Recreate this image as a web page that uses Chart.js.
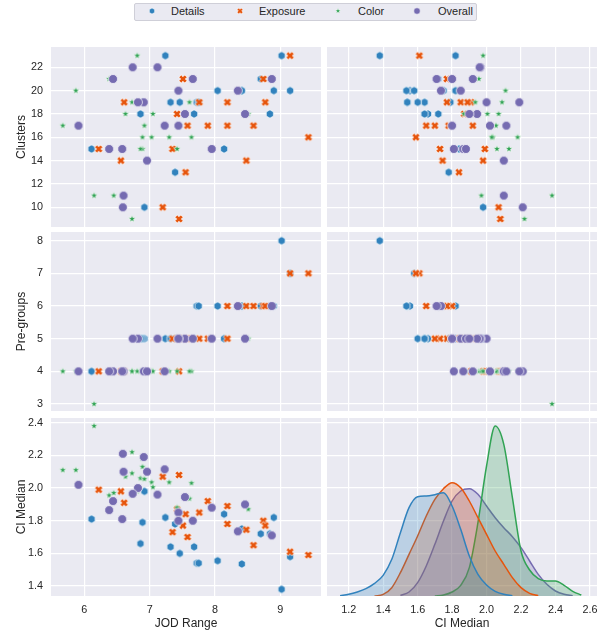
<!DOCTYPE html>
<html>
<head>
<meta charset="utf-8">
<script src="https://cdn.jsdelivr.net/npm/chart.js@4.4.1/dist/chart.umd.min.js"></script>
<style>
  body { margin: 0; background: #fff; width: 604px; height: 632px; position: relative; overflow: hidden;
         font-family: "Liberation Sans", Arial, sans-serif; color: #262626; }
  .panel { position: absolute; }
  .panel canvas { display: block; }
  #legend { position: absolute; left: 134px; top: 3px; width: 343px; height: 18px; box-sizing: border-box;
            background: #EAEAF2; border: 1px solid #cfcfd8; border-radius: 2px; }
  .leg-mark { position: absolute; }
  .leg-text { position: absolute; font-size: 11px; line-height: 13px; }
</style>
</head>
<body>
<div id="legend"></div>
<div id="panels"></div>
<script>
// ---- data ----
const hues = ["Details", "Exposure", "Color", "Overall"];
const hueColors = ["#3182bd", "#e6550d", "#31a354", "#756bb1"];

const detailsJod       = [6.11, 6.92, 6.89, 6.86, 7.24, 7.39, 7.32, 7.46, 7.68, 7.72, 7.75, 8.04, 8.14, 8.41, 8.41, 8.70, 8.84, 8.90, 9.15, 9.02];
const detailsClusters  = [15, 10, 19, 18, 23, 13, 19, 19, 18, 19, 19, 20, 15, 20, 20, 21, 18, 20, 20, 23];
const detailsPreGroups = [4, 5, 5, 5, 5, 5, 5, 5, 5, 6, 6, 6, 5, 6, 6, 6, 6, 6, 7, 8];
const detailsCiMedian  = [1.81, 1.98, 1.79, 1.66, 1.82, 1.78, 1.64, 1.60, 1.64, 1.54, 1.54, 1.555, 1.84, 1.535, 1.75, 1.72, 1.72, 1.82, 1.58, 1.38];

const exposureJod       = [6.22, 6.56, 6.61, 7.20, 7.45, 7.42, 7.55, 7.76, 7.51, 7.35, 7.58, 7.89, 8.19, 8.19, 8.48, 8.59, 8.74, 8.77, 9.15, 9.43];
const exposureClusters  = [15, 14, 19, 10, 9, 18, 13, 19, 21, 15, 17, 17, 19, 17, 14, 17, 21, 19, 23, 16];
const exposurePreGroups = [4, 4, 4, 4, 4, 5, 5, 5, 5, 5, 5, 5, 5, 6, 6, 6, 6, 6, 7, 7];
const exposureCiMedian  = [1.99, 1.98, 1.91, 2.07, 2.08, 1.87, 1.84, 1.85, 1.77, 1.73, 1.70, 1.92, 1.89, 1.78, 1.745, 1.65, 1.80, 1.77, 1.61, 1.59];

const colorJod       = [6.15, 5.67, 5.87, 6.73, 6.89, 6.73, 6.63, 6.86, 6.92, 7.03, 7.05, 7.30, 7.64, 6.38, 6.45, 6.81, 7.61, 7.42, 8.51, 6.89];
const colorClusters  = [11, 17, 20, 9, 15, 19, 18, 15, 17, 16, 18, 16, 16, 21, 11, 23, 19, 15, 18, 16];
const colorPreGroups = [3, 4, 4, 4, 4, 4, 4, 4, 4, 4, 4, 4, 4, 4, 4, 4, 4, 4, 5, 4];
const colorCiMedian  = [2.38, 2.11, 2.11, 2.22, 2.13, 2.09, 2.07, 2.06, 2.055, 2.035, 2.005, 2.035, 2.03, 1.955, 1.97, 1.98, 1.935, 1.88, 1.87, 2.18];

const overallJod       = [5.91, 6.59, 6.91, 6.60, 6.96, 7.23, 6.82, 6.74, 7.12, 6.44, 6.38, 6.58, 7.54, 7.44, 7.44, 7.66, 7.95, 8.46, 8.35, 8.87];
const overallClusters  = [17, 10, 19, 11, 14, 17, 19, 22, 22, 21, 15, 15, 18, 20, 17, 21, 15, 18, 20, 21];
const overallPreGroups = [4, 4, 4, 4, 4, 4, 5, 5, 5, 4, 4, 4, 5, 5, 5, 5, 5, 5, 6, 6];
const overallCiMedian  = [2.02, 2.21, 2.19, 2.10, 2.10, 2.115, 2.00, 1.965, 1.96, 1.92, 1.865, 1.81, 1.945, 1.85, 1.80, 1.80, 1.88, 1.90, 1.735, 1.71];

// kde curves on the diagonal, density read at these CI Median values
const kdeGrid = [1.10, 1.15, 1.20, 1.25, 1.30, 1.35, 1.40, 1.45, 1.50, 1.55, 1.60, 1.65, 1.70, 1.75, 1.80, 1.85,
                 1.90, 1.95, 2.00, 2.05, 2.10, 2.15, 2.20, 2.25, 2.30, 2.35, 2.40, 2.45, 2.50, 2.55, 2.60];
const detailsDensity  = [null, 0.01, 0.05, 0.12, 0.22, 0.38, 0.62, 1.10, 1.90, 2.65, 2.98, 3.00, 3.04, 3.10, 2.70, 2.00,
                         1.20, 0.65, 0.33, 0.14, 0.05, 0.01, null, null, null, null, null, null, null, null, null];
const exposureDensity = [null, null, null, null, null, 0.00, 0.05, 0.25, 0.70, 1.25, 1.80, 2.40, 2.90, 3.22, 3.40, 3.25,
                         2.85, 2.35, 1.85, 1.35, 0.95, 0.55, 0.25, 0.08, 0.01, null, null, null, null, null, null];
const colorDensity    = [null, null, null, null, null, null, null, null, null, null, null, null, 0.00, 0.03, 0.12, 0.32,
                         0.85, 2.20, 3.90, 5.10, 4.55, 2.95, 1.35, 0.78, 0.52, 0.45, 0.45, 0.32, 0.14, 0.03, null];
const overallDensity  = [null, null, null, null, null, null, null, null, 0.02, 0.12, 0.40, 0.90, 1.55, 2.25, 2.85, 3.15,
                         3.22, 3.05, 2.70, 2.35, 2.05, 1.78, 1.45, 1.05, 0.65, 0.35, 0.15, 0.05, 0.01, null, null];

const jodTicks = [6, 7, 8, 9];
const ciXTicks = [1.2, 1.4, 1.6, 1.8, 2.0, 2.2, 2.4, 2.6];
const ciYTicks = [1.4, 1.6, 1.8, 2.0, 2.2, 2.4];
const clusterTicks = [10, 12, 14, 16, 18, 20, 22];
const preGroupTicks = [3, 4, 5, 6, 7, 8];

// ---- style / layout ----
const TEXT = "#262626";
Chart.defaults.font.family = "'Liberation Sans', Arial, sans-serif";
Chart.defaults.color = TEXT;
Chart.defaults.animation = false;

const series = [
  { label: hues[0], color: hueColors[0], shape: "hexagon", jod: detailsJod, clusters: detailsClusters, pre: detailsPreGroups, ci: detailsCiMedian, density: detailsDensity },
  { label: hues[1], color: hueColors[1], shape: "x", jod: exposureJod, clusters: exposureClusters, pre: exposurePreGroups, ci: exposureCiMedian, density: exposureDensity },
  { label: hues[2], color: hueColors[2], shape: "star", jod: colorJod, clusters: colorClusters, pre: colorPreGroups, ci: colorCiMedian, density: colorDensity },
  { label: hues[3], color: hueColors[3], shape: "circle", jod: overallJod, clusters: overallClusters, pre: overallPreGroups, ci: overallCiMedian, density: overallDensity }
];

const MARK_R = { hexagon: 4.2, x: 4.1, star: 3.7, circle: 4.5 };

function markerCanvas(shape, color, scale) {
  const c = document.createElement("canvas");
  c.width = 14; c.height = 14;
  const g = c.getContext("2d");
  const r = MARK_R[shape] * scale;
  g.translate(7, 7);
  g.beginPath();
  if (shape === "circle") g.arc(0, 0, r, 0, Math.PI * 2);
  else if (shape === "hexagon") {
    for (let k = 0; k < 6; k++) { const a = -Math.PI / 2 + k * Math.PI / 3; g.lineTo(r * Math.cos(a), r * Math.sin(a)); }
  } else if (shape === "star") {
    for (let k = 0; k < 10; k++) { const a = -Math.PI / 2 + k * Math.PI / 5; const rr = k % 2 ? r * 0.42 : r; g.lineTo(rr * Math.cos(a), rr * Math.sin(a)); }
  } else {
    const w = r * 0.4;
    g.rotate(Math.PI / 4);
    [[-w, -r], [w, -r], [w, -w], [r, -w], [r, w], [w, w], [w, r], [-w, r], [-w, w], [-r, w], [-r, -w], [-w, -w]]
      .forEach(p => g.lineTo(p[0], p[1]));
  }
  g.closePath();
  g.fillStyle = color; g.fill();
  g.strokeStyle = "#fff"; g.lineWidth = (shape === "star" ? 0.5 : 0.7) * scale; g.stroke();
  return c;
}

const panelBg = {
  id: "panelBg",
  beforeDraw(chart) {
    const { ctx, chartArea: a } = chart;
    ctx.save();
    ctx.fillStyle = "#EAEAF2";
    ctx.fillRect(a.left, a.top, a.right - a.left, a.bottom - a.top);
    ctx.restore();
  }
};

const oneDec = v => v.toFixed(1);
const plain = v => String(v);
const VARS = {
  jod:      { title: "JOD Range",  min: 5.49,  max: 9.623, ticks: jodTicks,      fmt: plain },
  ciX:      { title: "CI Median",  min: 1.074, max: 2.641, ticks: ciXTicks,      fmt: oneDec },
  clusters: { title: "Clusters",   min: 8.31,  max: 23.74, ticks: clusterTicks,  fmt: plain },
  pre:      { title: "Pre-groups", min: 2.786, max: 8.266, ticks: preGroupTicks, fmt: plain },
  ciY:      { title: "CI Median",  min: 1.339, max: 2.429, ticks: ciYTicks,      fmt: oneDec }
};

const COLS = [{ left: 0, width: 322, yAxis: 51, padRight: 1 }, { left: 327, width: 277, yAxis: 0, padRight: 7 }];
const ROWS = [{ top: 47, height: 180, xAxis: 0 }, { top: 232, height: 179, xAxis: 0 }, { top: 418, height: 214, xAxis: 36 }];

function axis(v, position, size) {
  const show = size > 0;
  const left = position === "left";
  return {
    type: "linear", position, min: v.min, max: v.max,
    grid: { color: "#ffffff", lineWidth: 1.2, drawTicks: false },
    border: { display: false },
    ticks: { display: show, padding: left ? 8 : 8, font: { size: 10.8 }, color: TEXT, callback: v.fmt },
    title: { display: show, text: v.title, font: { size: 12 }, color: TEXT,
             padding: left ? { top: 14, bottom: 0 } : { top: 0, bottom: 1 } },
    afterBuildTicks: s => { s.ticks = v.ticks.map(t => ({ value: t })); },
    afterFit: s => {
      if (left) s.width = size; else s.height = size;
      s.paddingTop = 0; s.paddingBottom = 0; s.paddingLeft = 0; s.paddingRight = 0;
    }
  };
}

const PANELS = [
  { col: 0, row: 0, x: "jod", y: "clusters" },
  { col: 1, row: 0, x: "ci",  y: "clusters" },
  { col: 0, row: 1, x: "jod", y: "pre" },
  { col: 1, row: 1, x: "ci",  y: "pre" },
  { col: 0, row: 2, x: "jod", y: "ci" },
  { col: 1, row: 2, kde: true }
];

const holder = document.getElementById("panels");
PANELS.forEach(p => {
  const col = COLS[p.col], row = ROWS[p.row];
  const div = document.createElement("div");
  div.className = "panel";
  div.style.left = col.left + "px"; div.style.top = row.top + "px";
  const cv = document.createElement("canvas");
  cv.width = col.width; cv.height = row.height;
  div.appendChild(cv);
  holder.appendChild(div);

  const xVar = p.col === 0 ? VARS.jod : VARS.ciX;
  const yVar = p.row === 0 ? VARS.clusters : p.row === 1 ? VARS.pre : VARS.ciY;
  const scales = { x: axis(xVar, "bottom", row.xAxis), y: axis(yVar, "left", col.yAxis) };

  let type, datasets;
  if (p.kde) {
    type = "line";
    scales.yd = { type: "linear", display: false, min: 0, max: 5.34 };
    datasets = series.map(s => ({
      label: s.label,
      data: kdeGrid.map((x, k) => ({ x, y: s.density[k] })),
      yAxisID: "yd",
      borderColor: s.color, borderWidth: 1.5,
      backgroundColor: s.color + "40",
      fill: "origin", pointRadius: 0,
      cubicInterpolationMode: "monotone"
    }));
  } else {
    type = "scatter";
    datasets = series.map((s, i) => ({
      label: s.label,
      data: s[p.x].map((v, k) => ({ x: v, y: s[p.y][k] })),
      pointStyle: markerCanvas(s.shape, s.color, 1),
      pointRadius: 4, pointHoverRadius: 4,
      order: series.length - i
    }));
  }

  new Chart(cv, {
    type,
    data: { datasets },
    options: {
      responsive: false,
      events: [],
      layout: { autoPadding: false, padding: { left: 0, right: col.padRight, top: 0, bottom: 0 } },
      plugins: { legend: { display: false }, tooltip: { enabled: false } },
      scales
    },
    plugins: [panelBg]
  });
});

// legend
const LEGEND_MARK_X = [17, 105, 203, 282];
const LEGEND_TEXT_X = [36, 124, 223, 303];
const legend = document.getElementById("legend");
series.forEach((s, i) => {
  const m = markerCanvas(s.shape, s.color, 0.72);
  m.className = "leg-mark";
  m.style.left = (LEGEND_MARK_X[i] - 7) + "px";
  m.style.top = "0px";
  legend.appendChild(m);
  const t = document.createElement("span");
  t.className = "leg-text";
  t.style.left = LEGEND_TEXT_X[i] + "px";
  t.style.top = "1px";
  t.textContent = s.label;
  legend.appendChild(t);
});
</script>
</body>
</html>
